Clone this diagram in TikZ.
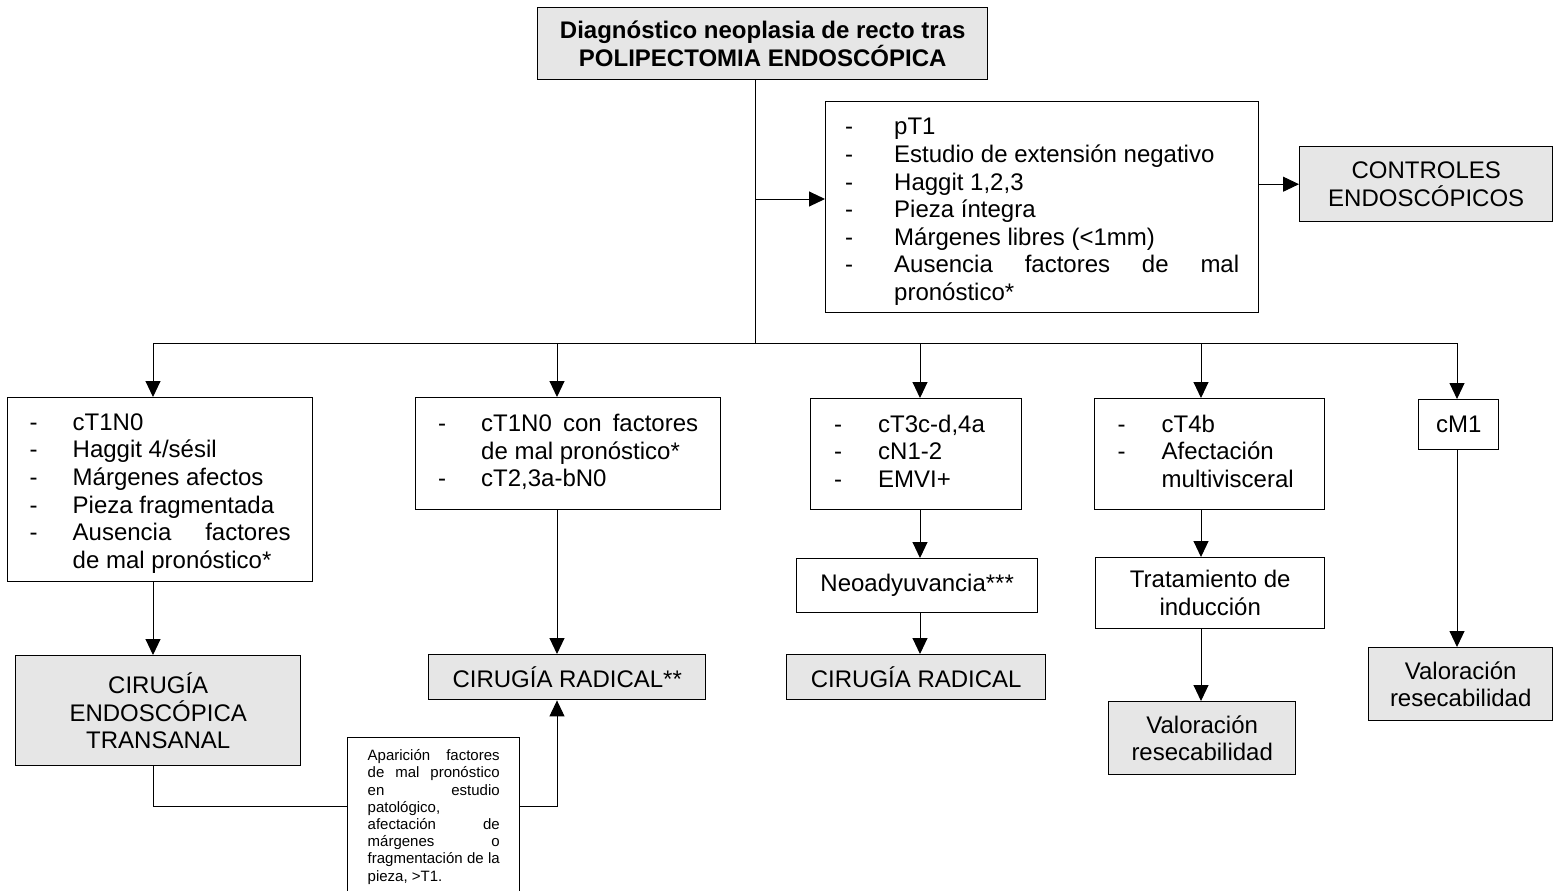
\documentclass[tikz,border=0pt]{standalone}
\usepackage{fontspec}
\setmainfont{Liberation Sans}
\usepackage{xcolor}
\usepackage{tikz}
\usetikzlibrary{arrows.meta}
\definecolor{grisclaro}{HTML}{E6E6E6}
\hyphenpenalty=10000
\exhyphenpenalty=10000
\tolerance=2000
% lista con guiones: [descenso], ancho del guion, ancho del texto, filas
\newcommand{\guiones}[4][0pt]{\raisebox{-#1}[\height][\depth]{\begin{tabular}{@{}p{#2}@{}p{#3}@{}}#4\end{tabular}}}
\tikzset{
  caja/.style={draw, line width=0.7pt, align=center, inner sep=0pt, anchor=north west, font=\fontsize{12}{13.8}\selectfont},
  gris/.style={caja, fill=grisclaro},
  linea/.style={line width=0.5pt},
  flecha/.style={linea, -{Triangle[length=8pt,width=7.5pt]}}
}

\begin{document}
\begin{tikzpicture}[x=0.5pt, y=-0.5pt]
    \useasboundingbox (0,0) rectangle (1553,890);
    % Cabecera
    \node[gris, minimum width=225pt, minimum height=36pt, font=\fontsize{12}{13.8}\selectfont\bfseries] (diag) at (537,7)
        {Diagnóstico neoplasia de recto tras\\POLIPECTOMIA ENDOSCÓPICA};
    % Rama pT1
    \node[caja, minimum width=216.5pt, minimum height=105.5pt] (pt) at (825,101)
        {\guiones[2.5pt]{24.5pt}{172.5pt}{- & pT1\\ - & Estudio de extensión negativo\\ - & Haggit 1,2,3\\ - & Pieza íntegra\\ - & Márgenes libres (<1mm)\\ - & Ausencia factores de mal\linebreak pronóstico*}};
    \node[gris, minimum width=126.5pt, minimum height=37.5pt] (ctrl) at (1299,146) {CONTROLES\\ENDOSCÓPICOS};
    % Segundo nivel
    \node[caja, minimum width=152.5pt, minimum height=92pt] (c1) at (7,397)
        {\guiones[2pt]{21.5pt}{109pt}{- & cT1N0\\ - & Haggit 4/sésil\\ - & Márgenes afectos\\ - & Pieza fragmentada\\ - & Ausencia factores\linebreak de mal pronóstico*}};
    \node[caja, minimum width=152.5pt, minimum height=56pt] (c2) at (415,397)
        {\guiones{21.5pt}{108.5pt}{- & cT1N0 con factores\linebreak de mal pronóstico*\\ - & cT2,3a-bN0}};
    \node[caja, minimum width=105.5pt, minimum height=55.5pt] (c3) at (810,398)
        {\guiones{22pt}{60pt}{- & cT3c-d,4a\\ - & cN1-2\\ - & EMVI+}};
    \node[caja, minimum width=115pt, minimum height=55.5pt] (c4) at (1094,398)
        {\guiones{22pt}{70pt}{- & cT4b\\ - & Afectación\newline multivisceral}};
    \node[caja, minimum width=40pt, minimum height=25pt] (c5) at (1418,399) {cM1};
    % Tratamientos
    \node[gris, minimum width=142.5pt, minimum height=55pt] (cet) at (15,655) {CIRUGÍA\\ENDOSCÓPICA\\TRANSANAL};
    \node[gris, minimum width=138.5pt, minimum height=22.5pt] (crr) at (428,654) {CIRUGÍA RADICAL**};
    \node[caja, minimum width=120.5pt, minimum height=27pt] (neo) at (796,558) {Neoadyuvancia***};
    \node[gris, minimum width=129.5pt, minimum height=22.5pt] (cr) at (786,654) {CIRUGÍA RADICAL};
    \node[caja, minimum width=114.5pt, minimum height=35.5pt] (ind) at (1095,557) {Tratamiento de\\inducción};
    \node[gris, minimum width=93.5pt, minimum height=36.5pt] (val1) at (1108,701) {Valoración\\resecabilidad};
    \node[gris, minimum width=92pt, minimum height=36.5pt] (val2) at (1368,647) {Valoración\\resecabilidad};
    % Nota al pie
    \node[caja, align=justify, text width=66pt, inner xsep=10pt, inner ysep=6pt, font=\fontsize{7.5}{8.6}\selectfont] (nota) at (347,737)
        {Aparición factores\linebreak de mal pronóstico\linebreak en estudio\linebreak patológico,\newline afectación de\linebreak márgenes o\linebreak fragmentación de la\linebreak pieza, >T1.};
    % Conectores
    \coordinate (bus) at (755,343);
    \coordinate (rama) at (755,199);
    \coordinate (lazo) at (0,806);
    \coordinate (b1) at (153,343);
    \coordinate (b2) at (557,343);
    \coordinate (b3) at (920,343);
    \coordinate (b4) at (1201,343);
    \coordinate (b5) at (1457,343);
    \draw[linea] (diag.south -| bus) -- (bus);
    \draw[flecha] (rama) -- (rama -| pt.west);
    \draw[flecha] (pt.east |- ctrl.west) -- (ctrl.west);
    \draw[linea] (b1) -- (b5);
    \draw[flecha] (b1) -- (b1 |- c1.north);
    \draw[flecha] (b2) -- (b2 |- c2.north);
    \draw[flecha] (b3) -- (b3 |- c3.north);
    \draw[flecha] (b4) -- (b4 |- c4.north);
    \draw[flecha] (b5) -- (b5 |- c5.north);
    \draw[flecha] (c1.south -| b1) -- (cet.north -| b1);
    \draw[flecha] (c2.south -| b2) -- (crr.north -| b2);
    \draw[flecha] (c3.south -| b3) -- (neo.north -| b3);
    \draw[flecha] (neo.south -| b3) -- (cr.north -| b3);
    \draw[flecha] (c4.south -| b4) -- (ind.north -| b4);
    \draw[flecha] (ind.south -| b4) -- (val1.north -| b4);
    \draw[flecha] (c5.south -| b5) -- (val2.north -| b5);
    \draw[linea] (cet.south -| b1) |- (nota.west |- lazo);
    \draw[flecha] (nota.east |- lazo) -| (crr.south -| b2);
\end{tikzpicture}
\end{document}
